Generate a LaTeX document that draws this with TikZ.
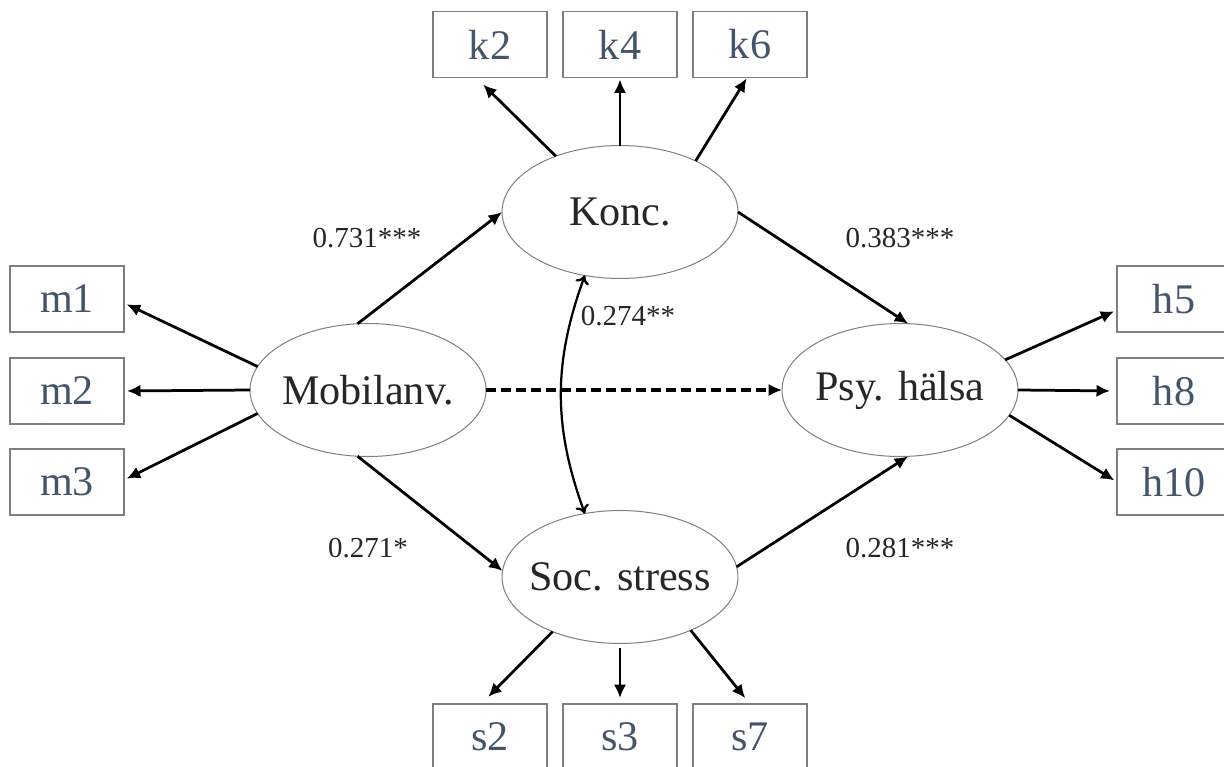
\documentclass[tikz,border=0pt]{standalone}
\usepackage{fontspec}
\setmainfont{Liberation Serif}
\usepackage{tikz}
\usetikzlibrary{arrows.meta}
\usetikzlibrary{shapes.geometric}

\definecolor{boxtext}{HTML}{44546A}
\definecolor{ink}{HTML}{262626}
\definecolor{rim}{HTML}{7F7F7F}

\tikzset{
  latent/.style={ellipse, draw=rim, line width=0.02cm, minimum width=4.72cm,
    minimum height=2.66cm, inner xsep=-0.6cm, inner ysep=0pt, outer sep=0pt,
    text=ink, font=\fontsize{24}{28}\selectfont},
  item/.style={rectangle, draw=rim, line width=0.025cm, minimum width=2.28cm,
    minimum height=1.32cm, inner sep=0pt, outer sep=0pt, text=boxtext,
    font=\fontsize{24}{28}\selectfont},
  coef/.style={text=ink, inner sep=0pt, font=\fontsize{16.5}{20}\selectfont},
  arr/.style={draw=black, line width=0.055cm, -{Latex[length=0.27cm,width=0.25cm]}},
  corr/.style={draw=black, line width=0.045cm,
    {To[length=0.17cm,width=0.28cm]}-{To[length=0.17cm,width=0.28cm]}},
}

\begin{document}
\begin{tikzpicture}[x=0.02cm, y=-0.02cm]
  \clip (0,0) rectangle (1224,767);

  % Latent variables
  \node[latent] (konc) at (620,212) {Konc.};
  \node[latent] (mob) at (368,390) {Mobilanv.};
  \node[latent] (psy) at (900,390) {Psy. hälsa};
  \node[latent] (soc) at (620,577) {Soc. stress};

  % Indicators
  \node[item] (k2) at (490,44.5) {k2};
  \node[item] (k4) at (620,44.5) {k4};
  \node[item] (k6) at (750,44.5) {k6};
  \node[item] (m1) at (67,299) {m1};
  \node[item] (m2) at (67,391) {m2};
  \node[item] (m3) at (67,482) {m3};
  \node[item] (h5) at (1174,299) {h5};
  \node[item] (h8) at (1174,391) {h8};
  \node[item] (h10) at (1174,482) {h10};
  \node[item] (s2) at (490,737) {s2};
  \node[item] (s3) at (620,737) {s3};
  \node[item] (s7) at (750,737) {s7};

  % Loadings
  \draw[arr, shorten >=0.2cm] (konc.139) -- (k2.-113);
  \draw[arr, shorten >=0.04cm] (konc.north) -- (k4.south);
  \draw[arr, shorten >=0.02cm] (konc.34) -- (k6.-95);
  \draw[arr, shorten >=0.06cm] (mob.168) -- (m1.-4);
  \draw[arr, shorten >=0.06cm] (mob.west) -- (m2.east);
  \draw[arr, shorten >=0.06cm] (mob.192) -- (m3.2);
  \draw[arr, shorten >=0.06cm] (psy.16) -- (h5.191);
  \draw[arr, shorten >=0.14cm] (psy.east) -- (h8.west);
  \draw[arr, shorten >=0.06cm] (psy.-13) -- (h10.west);
  \draw[arr, shorten >=0.2cm] (soc.219) -- (s2.105);
  \draw[arr, shorten <=0.1cm, shorten >=0.12cm] (soc.south) -- (s3.north);
  \draw[arr, shorten >=0.15cm] (soc.-37) -- (s7.north);

  % Paths
  \draw[arr] (mob.99) -- (konc.west);
  \draw[arr] (mob.-99) -- (soc.177);
  \draw[arr] (konc.east) -- (psy.83);
  \draw[arr] (soc.5) -- (psy.-83);
  \draw[arr, line width=0.07cm, dash pattern=on 0.2cm off 0.1cm] (mob.east) -- (psy.west);
  \draw[corr] (konc.-119) to[bend right=20] (soc.119);

  % Coefficients
  \node[coef] (c1) at (367,238) {0.731***};
  \node[coef] (c2) at (900,238) {0.383***};
  \node[coef] (c3) at (368,548) {0.271*};
  \node[coef] (c4) at (900,548) {0.281***};
  \node[coef] (c5) at (628,316) {0.274**};
\end{tikzpicture}
\end{document}
